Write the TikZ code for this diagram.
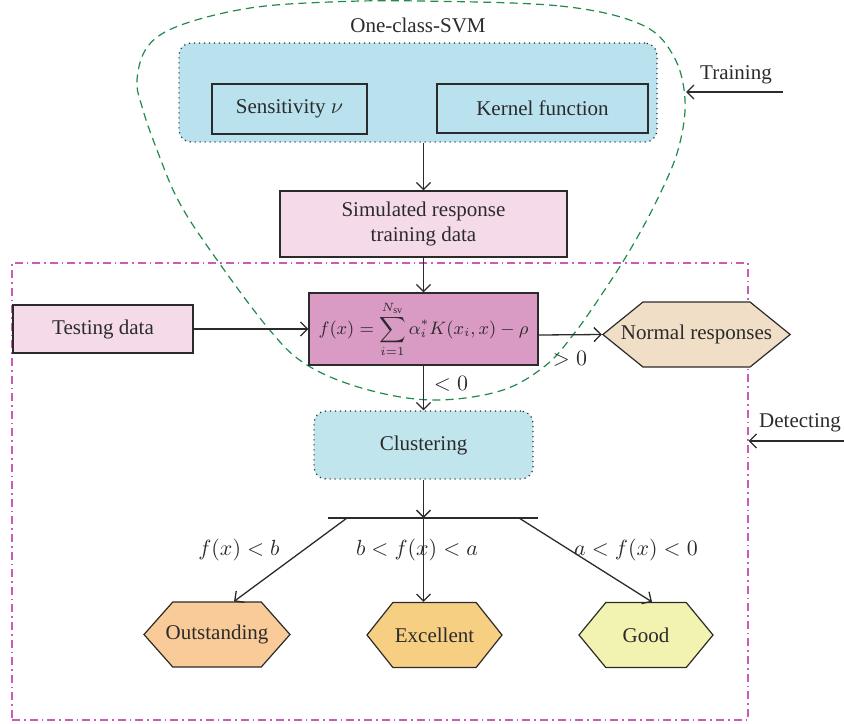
\documentclass[tikz,border=0pt]{standalone}
\usepackage{amsmath,amssymb}
\usepackage{fontspec}
\setmainfont{Liberation Serif}
\usepackage{xcolor}
\usepackage{tikz}
\usetikzlibrary{arrows.meta, positioning, shapes.symbols}

\definecolor{svmblue}{HTML}{B9E2EE}
\definecolor{clublue}{HTML}{C1E5EC}
\definecolor{simpink}{HTML}{F5DAE9}
\definecolor{fpurple}{HTML}{D99AC4}
\definecolor{normtan}{HTML}{F0DEC6}
\definecolor{outorange}{HTML}{F9CB98}
\definecolor{excorange}{HTML}{F7CF82}
\definecolor{goodyellow}{HTML}{F2F2B1}
\definecolor{svmgreen}{HTML}{1F8A4C}
\definecolor{detmagenta}{HTML}{C75DB6}
\definecolor{inkgray}{HTML}{2B2B2B}

\begin{document}
\begin{tikzpicture}[
  x=0.5pt, y=-0.5pt,
  every node/.style={text=inkgray, font=\fontsize{10.5}{12.5}\selectfont},
  box/.style={
    draw=inkgray,
    line width=0.6pt,
    fill=simpink,
    inner sep=2pt,
    align=center
  },
  dotbox/.style={
    draw=inkgray,
    dash pattern=on 0.6pt off 1.9pt,
    line width=0.6pt,
    fill=svmblue,
    rounded corners=6pt
  },
  hexbox/.style={
    shape=signal,
    signal to=west and east,
    draw=inkgray,
    line width=0.6pt,
    inner sep=1pt,
    minimum height=32.5pt
  },
  arrow/.style={
    -{Straight Barb[length=3.5pt, width=7pt]},
    line width=0.65pt,
    draw=inkgray
  }
]
\useasboundingbox (0,0) rectangle (844,723);

% Training part - the one-class SVM
\draw[svmgreen, line width=0.6pt, dash pattern=on 4pt off 2.6pt]
  plot[smooth cycle, tension=0.6] coordinates {
    (420,1) (560,6) (640,24) (673,55) (685,100) (678,150) (657,200)
    (630,250) (600,297) (573,335) (545,366) (500,391) (432,400)
    (365,389) (307,365) (268,328) (210,250) (178,200) (157,150)
    (143,110) (137,80) (148,46) (181,25) (250,8) (330,2)};
\node (svmtitle) at (418,25) {One-class-SVM};
\node[dotbox, minimum width=239pt, minimum height=49.5pt] (svm) at (418,92.5) {};
\node[box, fill=svmblue, minimum width=77.5pt, minimum height=25pt] (sens) at (289.5,109) {Sensitivity $\nu$};
\node[box, fill=svmblue, minimum width=105.5pt, minimum height=24.5pt] (kern) at (542.5,108.5) {Kernel function};
\node[box, minimum width=143.5pt, minimum height=33pt] (sim) at (423.5,224) {Simulated response\\training data};

% Detecting part
\node[draw=detmagenta, line width=0.6pt, dash pattern=on 4pt off 2pt on 0.8pt off 2pt,
  minimum width=368pt, minimum height=228.5pt] (det) at (380,491.5) {};
\node[box, minimum width=90pt, minimum height=24pt] (test) at (103,329) {Testing data};
\node[box, fill=fpurple, minimum width=114.5pt, minimum height=36pt, inner sep=0pt] (fx) at (423.5,329)
  {\small$\displaystyle f(x)=\sum_{i=1}^{N_{\mathrm{sv}}}\alpha_i^{*}K(x_i,x)-\rho$};
\node[hexbox, fill=normtan, minimum width=92.5pt, inner xsep=-11pt, signal pointer angle=78] (norm) at (696.5,334.5) {Normal responses};
\node[dotbox, fill=clublue, minimum width=109.5pt, minimum height=34pt] (clu) at (423.5,445) {Clustering};

% Classes
\node[hexbox, fill=outorange, minimum width=73pt, inner xsep=-3.75pt, signal pointer angle=97] (out) at (217,634.5) {Outstanding};
\node[hexbox, fill=excorange, minimum width=66.5pt, signal pointer angle=103] (exc) at (434.5,635) {Excellent};
\node[hexbox, fill=goodyellow, minimum width=67pt, signal pointer angle=101] (good) at (646,635) {Good};

% Branching bar
\coordinate (barL) at (328,518);
\coordinate (barR) at (538,518);
\coordinate (barM) at (423.5,518);
\coordinate (brL) at (347,518);
\coordinate (brR) at (519,518);

% Connections
\draw[arrow] (sim |- svm.south) -- (sim);
\draw[arrow] (sim) -- (fx);
\draw[arrow] (test) -- (fx.west |- test);
\draw[arrow] ([yshift=-3pt]fx.east) -- (norm.west);
\draw[arrow] (fx) -- (clu);
\draw[arrow] (clu) -- (barM);
\draw[line width=0.65pt, draw=inkgray] (barL) -- (barR);
\draw[arrow] (brL) -- ([xshift=8.5pt]out.north);
\draw[arrow] (barM) -- (barM |- exc.north);
\draw[arrow] (brR) -- ([xshift=3pt]good.north);

% Branch labels
\node (gt) at (570,359) {$>0$};
\node (lt) at (451,384) {$<0$};
\node (lb1) at (239,550) {$f(x)<b$};
\node (lb2) at (417,550) {$b<f(x)<a$};
\node (lb3) at (636,550) {$a<f(x)<0$};

% Phase labels on the right
\node (trtxt) at (736,75) {Training};
\coordinate (trS) at (783,92);
\coordinate (svmR) at (686,92);
\draw[arrow] (trS) -- (svmR);
\node (dettxt) at (800,423) {Detecting};
\coordinate (detS) at (844,441);
\draw[arrow] (detS) -- (detS -| det.east);
\end{tikzpicture}
\end{document}
